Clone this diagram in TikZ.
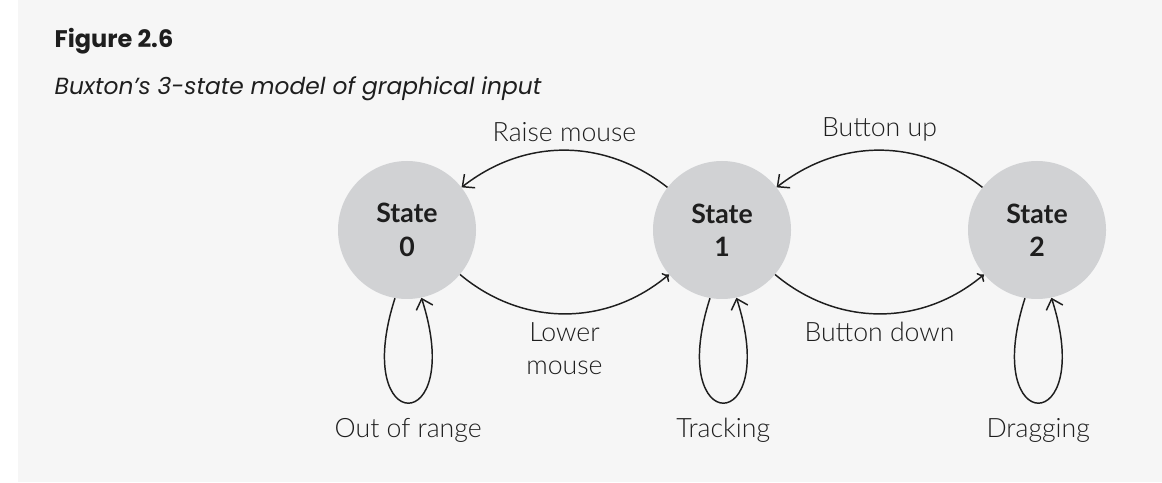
\documentclass[tikz,border=0pt]{standalone}
\usepackage{fontspec}
\setmainfont{Lato}
\newfontfamily\thinfont{Lato Light}
\newfontfamily\headfont{Poppins}
\usetikzlibrary{positioning,arrows.meta}
\definecolor{panelgrey}{HTML}{F6F6F6}
\definecolor{stategrey}{HTML}{D1D2D4}
\definecolor{inkblack}{HTML}{1E1E1E}

\begin{document}
\begin{tikzpicture}[x=0.75pt,y=0.75pt,
    state/.style={circle,fill=stategrey,minimum size=103.5pt,inner sep=0pt,
        align=center,text=inkblack,font=\fontsize{20}{25}\selectfont\bfseries},
    trans/.style={-{Straight Barb[length=7pt,width=13pt]},line width=1.1pt,inkblack},
    lbl/.style={font=\thinfont\fontsize{20}{25}\selectfont,align=center,
        inner sep=6pt,text=inkblack}]
    \useasboundingbox (0,0) rectangle (1162,482);
    \fill[white] (0,0) rectangle (1162,482);
    \fill[panelgrey] (18,0) rectangle (1162,482);

    \node[anchor=base west,text=inkblack,font=\headfont\fontsize{18}{22}\selectfont\bfseries]
        (title) at (50,434) {Figure 2.6};
    \node[anchor=base west,text=inkblack,font=\headfont\fontsize{17.5}{22}\selectfont\itshape]
        (caption) at (50,387) {Buxton’s 3-state model of graphical input};

    \node[state] (s0) at (407,252) {State\\0};

    \node[state] (s1) at (722,252) {State\\1}
        edge [trans,bend right=38]
        node[lbl,auto,swap] {Raise mouse} (s0)
        edge [trans,bend left=40,<-]
        node[lbl,auto] {Lower\\mouse} (s0);

    \node[state] (s2) at (1037,252) {State\\2}
        edge [trans,bend right=38]
        node[lbl,auto,swap] {Button up} (s1)
        edge [trans,bend left=40,<-]
        node[lbl,auto] {Button down} (s1);

    % self loops
    \draw[trans] (s0.260) .. controls +(-45,-140) and +(45,-140) .. (s0.282)
        node[lbl,pos=0.5,below=5pt] {Out of range};
    \draw[trans] (s1.260) .. controls +(-45,-140) and +(45,-140) .. (s1.282)
        node[lbl,pos=0.5,below=5pt] {Tracking};
    \draw[trans] (s2.260) .. controls +(-45,-140) and +(45,-140) .. (s2.282)
        node[lbl,pos=0.5,below=5pt] {Dragging};
\end{tikzpicture}
\end{document}
